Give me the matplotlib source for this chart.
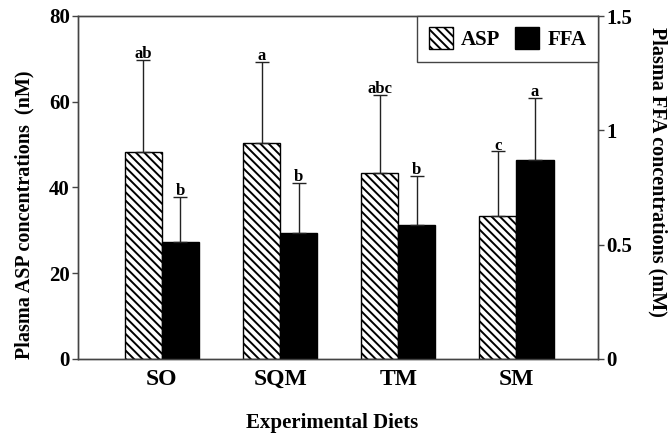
import matplotlib
matplotlib.use("Agg")
import matplotlib.pyplot as plt
import numpy as np

categories = ["SO", "SQM", "TM", "SM"]
asp_mean = [48.3, 50.4, 43.4, 33.4]
asp_err = [21.4, 18.8, 18.1, 15.0]
ffa_mean = [0.51, 0.55, 0.585, 0.87]
ffa_err = [0.20, 0.22, 0.215, 0.27]
asp_letters = ["ab", "a", "abc", "c"]
ffa_letters = ["b", "b", "b", "a"]

plt.rcParams['font.family'] = ['Liberation Serif', 'DejaVu Serif']
plt.rcParams['font.weight'] = 'bold'
plt.rcParams['hatch.linewidth'] = 1.4

fig = plt.figure(figsize=(6.68, 4.34), dpi=100)
ax = fig.add_axes([78/668, 1-359/434, (598-78)/668, (359-16)/434])
ax2 = ax.twinx()

x = np.arange(len(categories))
w = 0.314
spine_c = '#444444'

b1 = ax.bar(x - w/2, asp_mean, w, color='white', edgecolor='black', hatch='\\\\\\\\',
            linewidth=1.0, label='ASP', zorder=2)
ax.errorbar(x - w/2, asp_mean, yerr=[np.zeros(4), asp_err], fmt='none', ecolor='#222222',
            elinewidth=1.0, capsize=5, capthick=1.0, zorder=3)
b2 = ax2.bar(x + w/2, ffa_mean, w, color='black', edgecolor='black', linewidth=1.0,
             label='FFA', zorder=2)
ax2.errorbar(x + w/2, ffa_mean, yerr=[np.zeros(4), ffa_err], fmt='none', ecolor='#222222',
             elinewidth=1.0, capsize=5, capthick=1.0, zorder=3)

for xi, m, e, t in zip(x, asp_mean, asp_err, asp_letters):
    ax.annotate(t, (xi - w/2, m + e), xytext=(0, -1.5), textcoords='offset points',
                ha='center', va='bottom', fontsize=12, fontweight='bold')
for xi, m, e, t in zip(x, ffa_mean, ffa_err, ffa_letters):
    ax2.annotate(t, (xi + w/2, m + e), xytext=(0, -1.5), textcoords='offset points',
                 ha='center', va='bottom', fontsize=12, fontweight='bold')

ax.set_xlim(-0.71, 3.69)
ax.set_ylim(0, 80)
ax2.set_ylim(0, 1.5)
ax.set_yticks([0, 20, 40, 60, 80])
ax2.set_yticks([0, 0.5, 1, 1.5])
ax2.set_yticklabels(["0", "0.5", "1", "1.5"])
ax.set_xticks(x)
ax.set_xticklabels(categories, fontsize=17, fontweight='bold')
ax.tick_params(axis='x', length=0, pad=7)
ax.tick_params(axis='y', labelsize=15, length=4, width=1, color=spine_c, pad=2)
ax2.tick_params(axis='y', labelsize=15, length=4, width=1, color=spine_c, pad=2)

for a in (ax, ax2):
    for s in a.spines.values():
        s.set_color(spine_c)
        s.set_linewidth(1.0)

fig.text(24/668, 1-215/434, "Plasma ASP concentrations  (nM)", rotation=90,
         ha='center', va='center', fontsize=14.5, fontweight='bold')
fig.text(658/668, 1-172/434, "Plasma FFA concentrations (mM)", rotation=-90,
         ha='center', va='center', fontsize=14.5, fontweight='bold')
fig.text(332/668, 1/434, "Experimental Diets", ha='center', va='bottom',
         fontsize=15, fontweight='bold')

leg = ax2.legend(handles=[b1, b2], labels=['ASP', 'FFA'], ncol=2, loc='upper right',
                 borderaxespad=0, fancybox=False, edgecolor=spine_c, framealpha=1,
                 handlelength=1.15, handleheight=1.2, columnspacing=0.7,
                 handletextpad=0.4, borderpad=0.55, prop={'size': 15, 'weight': 'bold'})
leg.get_frame().set_linewidth(1.0)

fig.savefig("out.png", dpi=100)
